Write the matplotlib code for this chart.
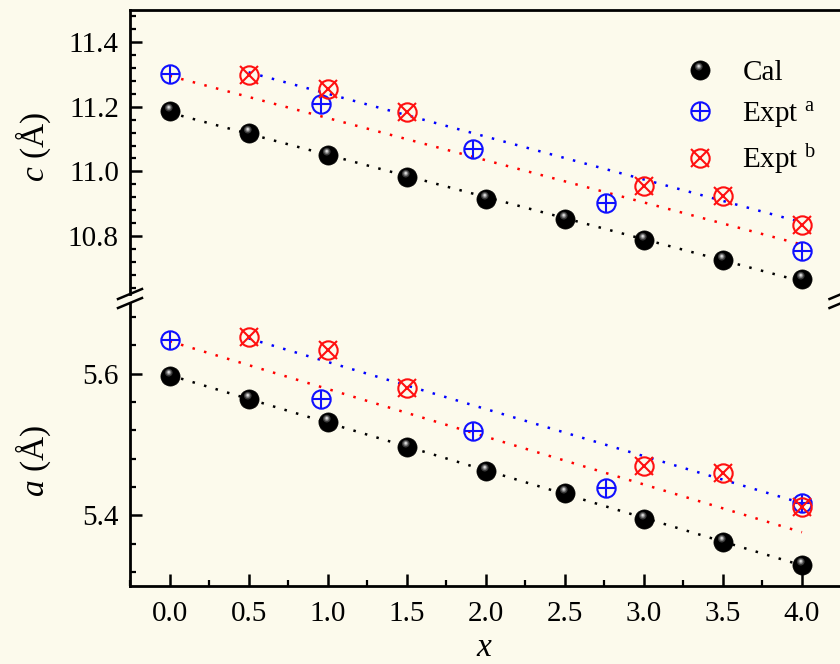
import numpy as np
import matplotlib
matplotlib.use('Agg')
import matplotlib.pyplot as plt
from matplotlib.path import Path
from matplotlib.lines import Line2D
from matplotlib.legend_handler import HandlerTuple
from matplotlib.ticker import MultipleLocator, FormatStrFormatter

plt.rcParams['font.family'] = ['Liberation Serif', 'DejaVu Serif']
plt.rcParams['mathtext.fontset'] = 'custom'
plt.rcParams['mathtext.rm'] = 'Liberation Serif'
plt.rcParams['mathtext.it'] = 'Liberation Serif:italic'

# ---------------- data ----------------
x_cal = [0.0, 0.5, 1.0, 1.5, 2.0, 2.5, 3.0, 3.5, 4.0]
c_cal = [11.188, 11.119, 11.050, 10.982, 10.914, 10.852, 10.788, 10.724, 10.667]
a_cal = [5.597, 5.565, 5.532, 5.497, 5.463, 5.431, 5.395, 5.362, 5.330]

x_expt_a = [0.0, 0.956, 1.918, 2.76, 4.0]
c_expt_a = [11.303, 11.209, 11.069, 10.901, 10.753]
a_expt_a = [5.647, 5.564, 5.519, 5.438, 5.418]

x_expt_b = [0.5, 1.0, 1.5, 3.0, 3.5, 4.0]
c_expt_b = [11.300, 11.256, 11.184, 10.954, 10.923, 10.833]
a_expt_b = [5.652, 5.634, 5.580, 5.470, 5.460, 5.411]

# dotted trend lines (end points)
x_trend_blue = [0.5, 4.0]
c_trend_blue = [11.307, 10.842]
a_trend_blue = [5.650, 5.417]
x_trend_red = [0.0, 4.0]
c_trend_red = [11.296, 10.773]
a_trend_red = [5.646, 5.376]

labels = ['Cal', 'Expt $^{\\mathrm{a}}$', 'Expt $^{\\mathrm{b}}$']

# ---------------- style ----------------
bg = '#FCFAEC'
W, H = 840, 664
fig = plt.figure(figsize=(W / 100, H / 100), dpi=100, facecolor=bg)


def rect(l, t, r, b):
    return [l / W, 1 - b / H, (r - l) / W, (b - t) / H]


ax1 = fig.add_axes(rect(130, 10, 841.5, 294), facecolor=bg)
ax2 = fig.add_axes(rect(130, 303, 841.5, 586), facecolor=bg)


def offset_circle(cx, cy, r):
    c = Path.circle((cx, cy), r)
    verts = np.vstack([[[1.0, 0.0]], c.vertices])
    codes = np.concatenate([[Path.MOVETO], c.codes])
    return Path(verts, codes)


hl_specs = [((-0.18, 0.40), 0.40, '#3a3a3a'),
            ((-0.18, 0.42), 0.27, '#7a7a7a'),
            ((-0.18, 0.44), 0.16, '#bdbdbd'),
            ((-0.18, 0.46), 0.07, '#f2f2f2')]

DOT = (0, (1, 3.8))
LW = 1.8
MS_SPHERE = 13.8
MS = 13.2

handles = None
for ax, cal, ea, eb, tb, tr in [(ax1, c_cal, c_expt_a, c_expt_b, c_trend_blue, c_trend_red),
                                 (ax2, a_cal, a_expt_a, a_expt_b, a_trend_blue, a_trend_red)]:
    coef = np.polyfit(x_cal, cal, 1)
    xs = np.array([x_cal[0], x_cal[-1]])
    ax.plot(xs, np.polyval(coef, xs), ls=DOT, color='black', lw=LW, zorder=1)
    ax.plot(x_trend_blue, tb, ls=DOT, color='#0000FF', lw=LW, zorder=1)
    ax.plot(x_trend_red, tr, ls=DOT, color='#FF0000', lw=LW, zorder=1)

    sph = ax.plot(x_cal, cal, ls='none', marker='o', ms=MS_SPHERE, color='black',
                  mec='black', mew=0.5, zorder=3)[0]
    hls = []
    for (cx, cy), r, col in hl_specs:
        hls.append(ax.plot(x_cal, cal, ls='none', marker=offset_circle(cx, cy, r),
                           ms=MS_SPHERE, color=col, mew=0, zorder=3.5)[0])
    bo = ax.plot(x_expt_a, ea, ls='none', marker='o', ms=MS, mfc='none', mec='#1010FF',
                 mew=1.5, zorder=4)[0]
    bp = ax.plot(x_expt_a, ea, ls='none', marker='+', ms=MS, color='#1010FF',
                 mew=1.5, zorder=4)[0]
    ro = ax.plot(x_expt_b, eb, ls='none', marker='o', ms=MS, mfc='none', mec='#FF1010',
                 mew=1.5, zorder=4)[0]
    rx = ax.plot(x_expt_b, eb, ls='none', marker='x', ms=MS, color='#FF1010',
                 mew=1.5, zorder=4)[0]
    if handles is None:
        handles = [tuple([sph] + hls), (bo, bp), (ro, rx)]

    ax.set_xlim(-0.25, 4.25)
    ax.yaxis.set_major_locator(MultipleLocator(0.2))
    ax.yaxis.set_minor_locator(MultipleLocator(0.04))
    ax.yaxis.set_major_formatter(FormatStrFormatter('%.1f'))
    ax.tick_params(axis='y', which='both', direction='in', left=True, right=False,
                   labelsize=21, pad=8)
    ax.tick_params(axis='both', which='major', length=8.5, width=1.8)
    ax.tick_params(axis='both', which='minor', length=4.5, width=1.6)
    for s in ax.spines.values():
        s.set_linewidth(2.0)

ax1.set_ylim(10.62, 11.5)
ax2.set_ylim(5.30, 5.70)

ax1.spines['bottom'].set_visible(False)
ax2.spines['top'].set_visible(False)
ax1.tick_params(axis='x', which='both', bottom=False, top=False, labelbottom=False)

ax2.xaxis.set_major_locator(MultipleLocator(0.5))
ax2.xaxis.set_minor_locator(MultipleLocator(0.25))
ax2.xaxis.set_major_formatter(FormatStrFormatter('%.1f'))
ax2.tick_params(axis='x', which='both', direction='in', bottom=True, top=False,
                labelsize=21, pad=11)

# axis-break marks
for xc in (130, 841.5):
    for yc in (294, 303):
        fig.add_artist(Line2D([(xc - 12) / W, (xc + 12) / W],
                              [1 - (yc + 5) / H, 1 - (yc - 5) / H],
                              transform=fig.transFigure, color='black', lw=1.8))

# axis labels
fig.text(33 / W, 1 - 147.5 / H, '$c$ (Å)', rotation=90, ha='center', va='center', fontsize=24)
fig.text(33 / W, 1 - 461 / H, '$a$ (Å)', rotation=90, ha='center', va='center', fontsize=24)
fig.text(484 / W, 1 - 663 / H, 'x', style='italic', ha='center', va='bottom', fontsize=24)

ax1.legend(handles, labels, handler_map={tuple: HandlerTuple(ndivide=1)},
           frameon=False, loc='upper left',
           bbox_to_anchor=(685.5 / W, 1 - 60 / H), bbox_transform=fig.transFigure,
           borderpad=0, borderaxespad=0, handlelength=1.0, handletextpad=0.95,
           labelspacing=0.45, fontsize=21, numpoints=1)

fig.savefig('out.png', dpi=100, facecolor=bg)
